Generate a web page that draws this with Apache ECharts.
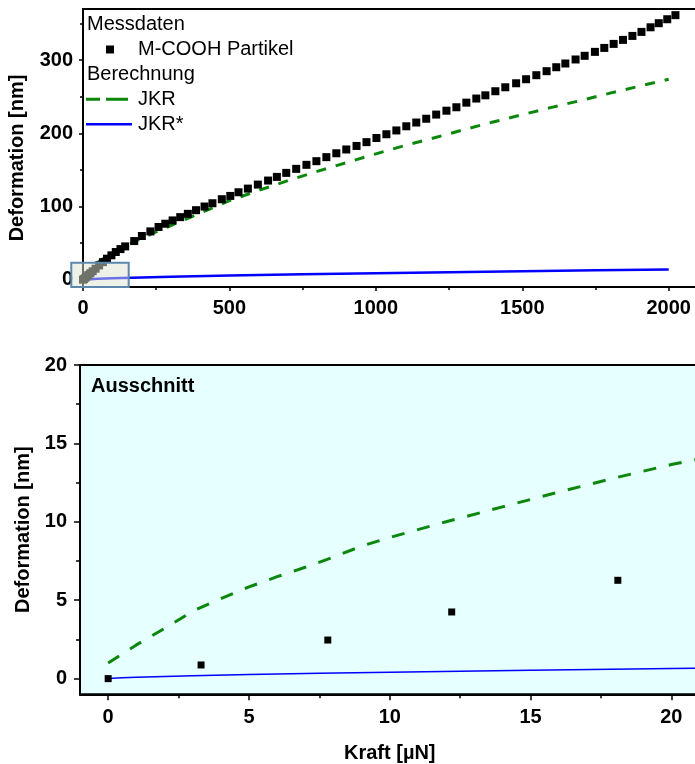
<!DOCTYPE html>
<html>
<head>
<meta charset="utf-8">
<script src="https://cdn.jsdelivr.net/npm/echarts@6/dist/echarts.min.js"></script>
<style>
html, body { margin: 0; padding: 0; background: #fff; }
#chart { width: 695px; height: 764px; }
</style>
</head>
<body>
<div id="chart"></div>
<script>
// Measured deformation of M-COOH particles: force [µN] and deformation [nm]
const forceData = [0, 3.3, 7.8, 12.2, 18.1, 25, 33, 43, 55, 68, 82, 97, 112, 128, 144, 175, 201, 230, 258, 281,
  306, 332, 358, 386, 415, 442, 474, 503, 531, 563, 597, 632, 662, 694, 728, 763, 797, 831, 865, 899,
  934, 968, 1002, 1036, 1070, 1104, 1138, 1172, 1206, 1241, 1275, 1309, 1343, 1374, 1408, 1442, 1479, 1513, 1548, 1583,
  1616, 1647, 1682, 1713, 1748, 1780, 1812, 1844, 1876, 1907, 1938, 1966, 1995, 2023];
const deformData = [0, 0.87, 2.46, 4.25, 6.27, 8.7, 11.5, 15, 19.5, 24, 28.7, 33.3, 37.8, 41.8, 45.5, 52.8, 59.7, 66, 72, 76.5,
  81, 85.5, 90, 95, 100, 104.5, 110, 114.5, 119.5, 124.5, 130, 135.5, 140.5, 146, 151.5, 157, 162, 167.5, 172.8, 178,
  182.8, 188, 193.7, 198.8, 204, 209.7, 214.8, 220, 225.7, 231, 235.7, 242, 247.6, 252, 257.6, 263, 268.5, 274, 279.5, 285,
  290.4, 295.5, 301, 306, 311.4, 316.8, 322.3, 327.8, 333.2, 338.7, 345, 350.6, 356, 361.6];

// JKR model curve
const jkrForce = [0, 1, 2, 3, 4, 5, 6, 7, 8, 9, 10, 12, 14, 16, 18, 20, 25, 30, 40, 50, 60, 80, 100, 125, 150, 200,
  250, 300, 400, 500, 600, 700, 800, 900, 1000, 1100, 1200, 1300, 1400, 1500, 1600, 1700, 1800, 1900, 2000];
const jkrDeform = [1.0, 2.15, 3.2, 4.3, 5.1, 5.85, 6.5, 7.1, 7.75, 8.45, 9.0, 10.0, 10.95, 11.9, 12.8, 13.65, 15.5, 17.3, 20.5, 23.5, 26.3, 31.5, 36.2, 41.7, 47, 56.5,
  65.5, 74, 91, 108, 122, 135.5, 148, 160, 172, 183.5, 194, 205, 215.5, 225.5, 235.5, 245, 255, 264.5, 274];

// JKR* model curve
const jkrStarForce = [0, 0.5, 1, 2, 3, 5, 7.5, 10, 15, 20, 25, 50, 100, 200, 300, 500, 750, 1000, 1250, 1500, 1750, 2000];
const jkrStarDeform = [0, 0.056, 0.088, 0.14, 0.18, 0.26, 0.34, 0.41, 0.54, 0.65, 0.75, 1.2, 1.9, 3.0, 3.95, 5.55, 7.3, 8.8, 10.2, 11.55, 12.8, 14.0];

// Tick values
const overviewXTicks = [0, 500, 1000, 1500, 2000];
const overviewXMinor = [250, 750, 1250, 1750];
const overviewYTicks = [0, 100, 200, 300];
const overviewYMinor = [50, 150, 250, 350];
const detailTicks = [0, 5, 10, 15, 20];
const detailMinor = [2.5, 7.5, 12.5, 17.5];

// Region of the overview shown enlarged in the lower panel
const detailRegion = { xFrom: -40, xTo: 156, yFrom: -10, yTo: 23.2 };

const FONT = "'Liberation Sans', Arial, Helvetica, sans-serif";
const GREEN = '#0b870b';
const BLUE = '#0000ff';

const pairs = (xs, ys) => xs.map((x, i) => [x, ys[i]]);

function axisPair(dim, gridIndex, min, max, majors, minors, cfg) {
  const position = dim === 'x' ? 'bottom' : 'left';
  const main = {
    type: 'value', gridIndex, min, max, position,
    axisLine: { show: true, onZero: false, lineStyle: { color: '#000', width: 2 } },
    axisTick: { show: true, inside: false, length: cfg.majorLen, customValues: majors, lineStyle: { color: '#000', width: 1.5 } },
    axisLabel: { show: true, customValues: majors, margin: cfg.margin, color: '#000',
      fontFamily: FONT, fontSize: 20, fontWeight: 'bold', formatter: (v) => String(v) },
    splitLine: { show: false }
  };
  if (cfg.name) {
    main.name = cfg.name;
    main.nameLocation = 'middle';
    main.nameGap = cfg.nameGap;
    main.nameTextStyle = { color: '#000', fontFamily: FONT, fontSize: 20, fontWeight: 'bold', padding: cfg.namePadding || 0 };
  }
  const minor = {
    type: 'value', gridIndex, min, max, position,
    axisLine: { show: false, onZero: false },
    axisTick: { show: true, inside: false, length: cfg.minorLen, customValues: minors, lineStyle: { color: '#000', width: 1.5 } },
    axisLabel: { show: false },
    splitLine: { show: false }
  };
  return [main, minor];
}

const chart = echarts.init(document.getElementById('chart'));

const xAxes = [
  ...axisPair('x', 0, 0, 2100, overviewXTicks, overviewXMinor, { majorLen: 4, minorLen: 3, margin: 11 }),
  ...axisPair('x', 1, -1, 21, detailTicks, detailMinor, { majorLen: 6, minorLen: 4, margin: 13, name: 'Kraft [µN]', nameGap: 49 })
];
const yAxes = [
  ...axisPair('y', 0, -10, 370, overviewYTicks, overviewYMinor, { majorLen: 4, minorLen: 3, margin: 10, name: 'Deformation [nm]', nameGap: 56, namePadding: [0, 20, 0, 0] }),
  ...axisPair('y', 1, -1, 20, detailTicks, detailMinor, { majorLen: 6, minorLen: 4, margin: 13, name: 'Deformation [nm]', nameGap: 45 })
];

const scatterStyle = { color: '#000', opacity: 1, borderWidth: 0 };

chart.setOption({
  animation: false,
  backgroundColor: '#fff',
  grid: [
    { left: 83, top: 9, width: 615, height: 278, show: true, borderColor: '#000', borderWidth: 2,
      backgroundColor: 'transparent', containLabel: false, outerBoundsMode: 'none' },
    { left: 80, top: 365, width: 619.5, height: 329.3, show: true, borderColor: '#000', borderWidth: 2,
      backgroundColor: '#e6ffff', containLabel: false, outerBoundsMode: 'none' }
  ],
  xAxis: xAxes,
  yAxis: yAxes,
  series: [
    { name: 'JKR', type: 'line', xAxisIndex: 0, yAxisIndex: 0, data: pairs(jkrForce, jkrDeform), showSymbol: false,
      lineStyle: { color: GREEN, width: 3, type: [10, 10] }, z: 2 },
    { name: 'JKR*', type: 'line', xAxisIndex: 0, yAxisIndex: 0, data: pairs(jkrStarForce, jkrStarDeform), showSymbol: false,
      lineStyle: { color: BLUE, width: 2.5 }, z: 2 },
    { name: 'M-COOH Partikel', type: 'scatter', xAxisIndex: 0, yAxisIndex: 0, data: pairs(forceData, deformData),
      symbol: 'rect', symbolSize: 8, itemStyle: scatterStyle, z: 3 },

    { name: 'JKR', type: 'line', xAxisIndex: 2, yAxisIndex: 2, data: pairs(jkrForce, jkrDeform), showSymbol: false,
      lineStyle: { color: GREEN, width: 3, type: [13, 13] }, z: 2 },
    { name: 'JKR*', type: 'line', xAxisIndex: 2, yAxisIndex: 2, data: pairs(jkrStarForce, jkrStarDeform), showSymbol: false,
      lineStyle: { color: BLUE, width: 1.5 }, z: 2 },
    { name: 'M-COOH Partikel', type: 'scatter', xAxisIndex: 2, yAxisIndex: 2, data: pairs(forceData, deformData),
      symbol: 'rect', symbolSize: 7, itemStyle: scatterStyle, z: 3 }
  ]
});

// Highlight of the enlarged region and the legend, placed after layout
const p0 = chart.convertToPixel({ gridIndex: 0 }, [detailRegion.xFrom, detailRegion.yTo]);
const p1 = chart.convertToPixel({ gridIndex: 0 }, [detailRegion.xTo, detailRegion.yFrom]);

const legendText = (text, x, y) => ({
  type: 'text', z: 200,
  style: { text, x, y, font: `20px ${FONT}`, fill: '#000', align: 'left', verticalAlign: 'middle' }
});

chart.setOption({
  graphic: [
    { type: 'rect', z: 100,
      shape: { x: p0[0], y: p0[1], width: p1[0] - p0[0], height: p1[1] - p0[1] },
      style: { fill: 'rgba(220,228,210,0.5)', stroke: '#5b87ad', lineWidth: 2 } },
    legendText('Messdaten', 87, 24),
    { type: 'rect', z: 200, shape: { x: 106, y: 45.5, width: 8, height: 8 }, style: { fill: '#000' } },
    legendText('M-COOH Partikel', 138, 49),
    legendText('Berechnung', 87, 74),
    { type: 'line', z: 200, shape: { x1: 86, y1: 99.3, x2: 128, y2: 99.3 },
      style: { stroke: GREEN, lineWidth: 3, lineDash: [14, 6, 22, 20] } },
    legendText('JKR', 138, 99),
    { type: 'line', z: 200, shape: { x1: 86, y1: 124.3, x2: 132, y2: 124.3 },
      style: { stroke: BLUE, lineWidth: 2.5 } },
    legendText('JKR*', 138, 124),
    { type: 'text', z: 200,
      style: { text: 'Ausschnitt', x: 91, y: 386, font: `bold 20px ${FONT}`, fill: '#000', align: 'left', verticalAlign: 'middle' } }
  ]
});
</script>
</body>
</html>
